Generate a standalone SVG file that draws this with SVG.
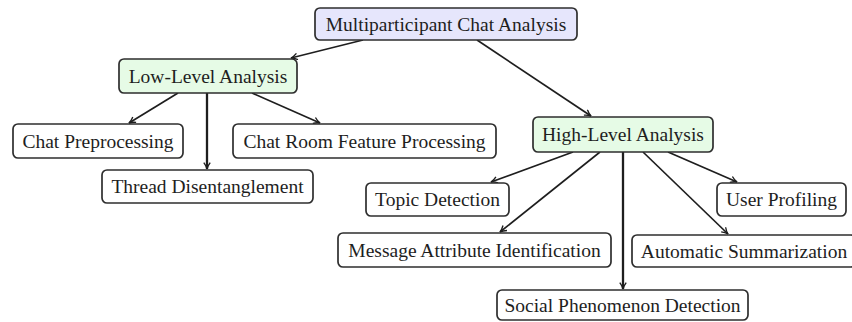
<svg xmlns="http://www.w3.org/2000/svg" width="852" height="322" viewBox="0 0 852 322">
  <style>
    .box { fill: #ffffff; stroke: #2e2e2e; stroke-width: 1.7; }
    .root { fill: #e6e6fc; }
    .mid { fill: #e6fbe6; }
    text { font-family: "Liberation Serif", "DejaVu Serif", "Times New Roman", serif; font-size: 19.5px; fill: #1e1e1e; text-anchor: middle; }
    .edge { stroke: #1e1e1e; stroke-width: 1.7; fill: none; marker-end: url(#tip); }
    .thick { stroke-width: 2.3; }
  </style>
  <defs>
    <marker id="tip" viewBox="0 0 10 10" refX="9" refY="5" markerWidth="8" markerHeight="8" markerUnits="userSpaceOnUse" orient="auto">
      <path d="M1,1 Q5,4 9,5 Q5,6 1,9" fill="none" stroke="#1e1e1e" stroke-width="1.7"/>
    </marker>
  </defs>

  <g id="connectors">
    <line class="edge" x1="363" y1="40" x2="291" y2="58"/>
    <line class="edge" x1="477" y1="40" x2="591" y2="116"/>
    <line class="edge" x1="178" y1="93" x2="129" y2="123"/>
    <line class="edge thick" x1="207" y1="93" x2="207" y2="169"/>
    <line class="edge" x1="252" y1="93" x2="320" y2="123"/>
    <line class="edge" x1="573" y1="152" x2="491" y2="182"/>
    <line class="edge" x1="600" y1="152" x2="500" y2="232"/>
    <line class="edge thick" x1="623" y1="152" x2="623" y2="289"/>
    <line class="edge" x1="643" y1="152" x2="728" y2="234"/>
    <line class="edge" x1="668" y1="152" x2="737" y2="182"/>
  </g>

  <g id="root">
    <rect class="box root" x="315" y="8" width="262" height="32" rx="5"/>
    <text x="446" y="30.5">Multiparticipant Chat Analysis</text>
  </g>
  <g id="low-level">
    <rect class="box mid" x="119" y="59" width="178" height="34" rx="5"/>
    <text x="208" y="82.5">Low-Level Analysis</text>
  </g>
  <g id="chat-preprocessing">
    <rect class="box" x="13" y="124" width="170" height="34" rx="5"/>
    <text x="98" y="147.5">Chat Preprocessing</text>
  </g>
  <g id="chat-room-feature">
    <rect class="box" x="233" y="124" width="263" height="34" rx="5"/>
    <text x="364.5" y="147.5">Chat Room Feature Processing</text>
  </g>
  <g id="thread-disentanglement">
    <rect class="box" x="102" y="170" width="211" height="33" rx="5"/>
    <text x="207.5" y="193">Thread Disentanglement</text>
  </g>
  <g id="high-level">
    <rect class="box mid" x="533" y="117" width="180" height="35" rx="5"/>
    <text x="623" y="141">High-Level Analysis</text>
  </g>
  <g id="topic-detection">
    <rect class="box" x="366" y="183" width="143" height="33" rx="5"/>
    <text x="437.5" y="206">Topic Detection</text>
  </g>
  <g id="user-profiling">
    <rect class="box" x="717" y="183" width="129" height="33" rx="5"/>
    <text x="781.5" y="206">User Profiling</text>
  </g>
  <g id="message-attribute">
    <rect class="box" x="338" y="233" width="273" height="34" rx="5"/>
    <text x="474.5" y="256.5">Message Attribute Identification</text>
  </g>
  <g id="automatic-summarization">
    <rect class="box" x="632" y="235" width="224" height="32" rx="5"/>
    <text x="744" y="257.5">Automatic Summarization</text>
  </g>
  <g id="social-phenomenon">
    <rect class="box" x="497" y="290" width="251" height="30" rx="5"/>
    <text x="622.5" y="311.5">Social Phenomenon Detection</text>
  </g>
</svg>
